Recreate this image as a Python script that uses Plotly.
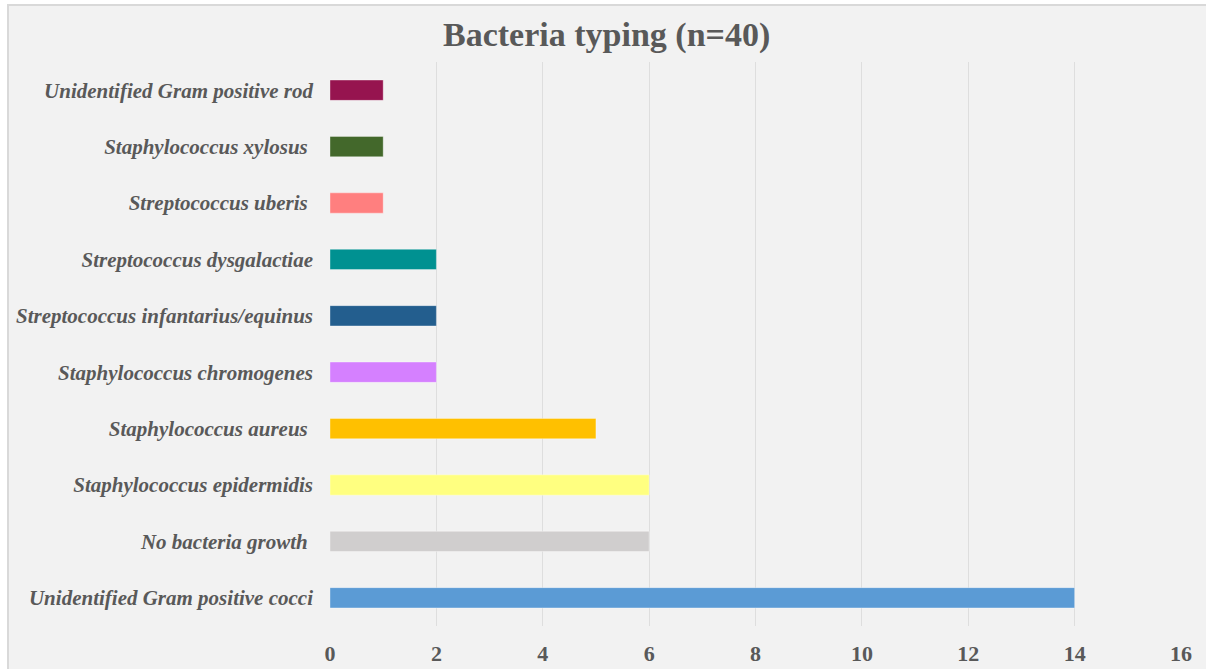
import plotly.graph_objects as go

# Bacteria identified among 40 samples (bottom to top)
categories = [
    "Unidentified Gram positive cocci",
    "No bacteria growth\u00a0",
    "Staphylococcus epidermidis",
    "Staphylococcus aureus\u00a0",
    "Staphylococcus chromogenes",
    "Streptococcus infantarius/equinus",
    "Streptococcus dysgalactiae",
    "Streptococcus uberis\u00a0",
    "Staphylococcus xylosus\u00a0",
    "Unidentified Gram positive rod",
]
counts = [14, 6, 6, 5, 2, 2, 2, 1, 1, 1]
bar_colors = [
    "#5b9bd5", "#d0cece", "#ffff80", "#ffc000", "#d580ff",
    "#235e8e", "#009191", "#ff7f7f", "#43682b", "#96144f",
]
x_ticks = [0, 2, 4, 6, 8, 10, 12, 14, 16]

W, H = 1206, 669
ML, MR, MT, MB = 330, 25, 62, 43
PW, PH = W - ML - MR, H - MT - MB
text_grey = "#595959"
serif = "Liberation Serif, Times New Roman, serif"

fig = go.Figure(
    go.Bar(
        y=categories,
        x=counts,
        orientation="h",
        width=0.36,
        marker=dict(color=bar_colors, line=dict(color="rgba(255,255,255,0.35)", width=1)),
        hoverinfo="x+y",
    )
)

fig.update_layout(
    width=W,
    height=H,
    paper_bgcolor="white",
    plot_bgcolor="rgba(0,0,0,0)",
    margin=dict(l=ML, r=MR, t=MT, b=MB, autoexpand=False),
    showlegend=False,
    title=dict(
        text="<b>Bacteria typing (n=40)</b>",
        x=0.503,
        xanchor="center",
        y=1 - 34 / H,
        yanchor="middle",
        font=dict(family=serif, size=34, color=text_grey),
    ),
    shapes=[
        dict(
            type="rect", xref="paper", yref="paper", layer="below",
            x0=-(ML - 8) / PW, x1=1.2, y0=-0.2, y1=1 + (MT - 5) / PH,
            fillcolor="#f2f2f2", line=dict(color="#d9d9d9", width=2),
        )
    ],
)

fig.update_xaxes(
    range=[0, 16],
    tickvals=x_ticks,
    showgrid=True,
    gridcolor="#dedede",
    gridwidth=1,
    zeroline=False,
    showline=False,
    ticks="",
    ticklabelstandoff=12,
    tickfont=dict(family=serif, size=22, color=text_grey, weight="bold"),
)

fig.update_yaxes(
    categoryorder="array",
    categoryarray=categories,
    range=[-0.5, len(categories) - 0.5],
    showgrid=False,
    zeroline=False,
    showline=False,
    ticks="",
    ticklabelstandoff=16,
    tickfont=dict(family=serif, size=21, color=text_grey, weight="bold", style="italic"),
)

fig.write_html("out.html")
